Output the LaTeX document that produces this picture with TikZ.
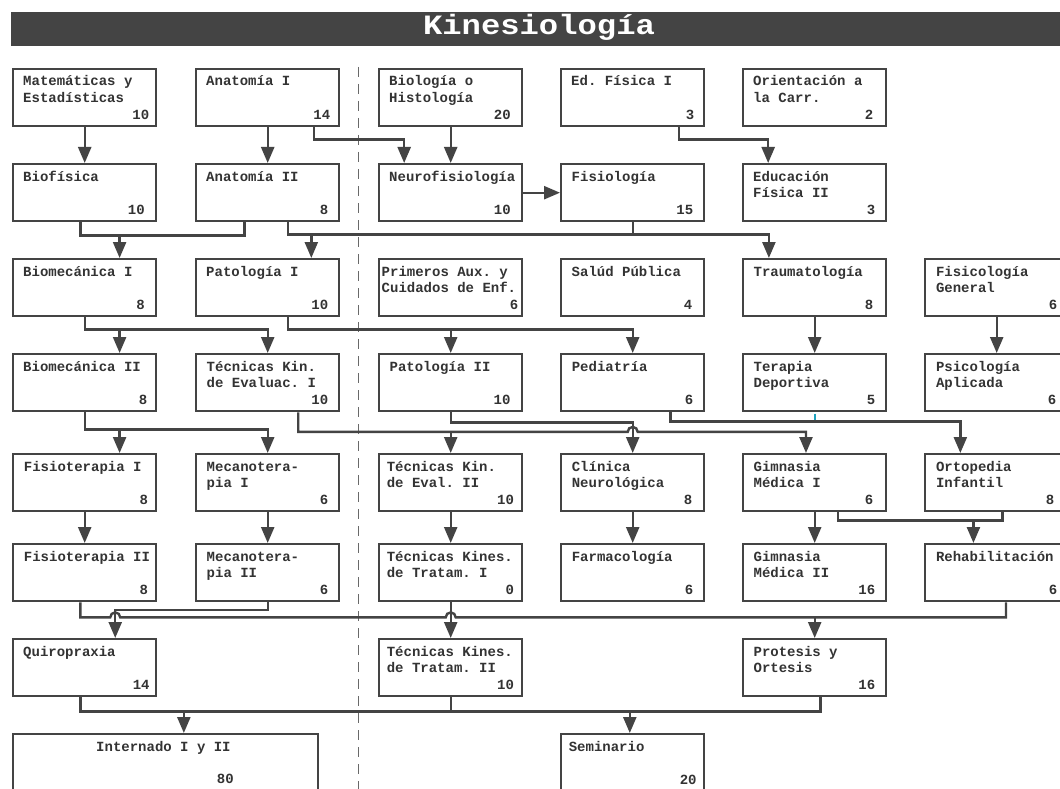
\documentclass[tikz,border=0pt]{standalone}
\usepackage{fontspec}
\setmonofont{Liberation Mono}
\newfontfamily\titlefont[FakeStretch=1.15]{Liberation Mono}
\usetikzlibrary{arrows.meta,calc}
\definecolor{ink}{HTML}{444444}
\definecolor{txt}{HTML}{333333}
\definecolor{tealseg}{HTML}{1FA3BF}
\newcommand\subj[8]{%
  \node[cbox] (#1) at (#2,#3) {};
  \node[ctext, anchor=base west] (#1-a) at ($(#1.north west)+(#7,18)$) {#4};
  \node[ctext, anchor=base west] (#1-b) at ($(#1.north west)+(#7,34.7)$) {#5};
  \node[ctext, anchor=base east] (#1-n) at ($(#1.north east)+(-#8,51.4)$) {#6};
}
\begin{document}
\begin{tikzpicture}[x=1pt,y=-1pt,
  font=\ttfamily\bfseries\fontsize{14}{16.7}\selectfont,
  cbox/.style={rectangle, draw=ink, line width=2.4pt, fill=white, minimum width=143pt, minimum height=57pt, inner sep=0pt, anchor=north west},
  ctext/.style={inner sep=0pt, text=txt},
  conn/.style={draw=ink, line width=2.4pt},
  arr/.style={conn, -{Triangle[length=16pt,width=13pt]}},
  tseg/.style={draw=tealseg, line width=2.4pt},
  dashline/.style={draw=ink!80, line width=1pt, dash pattern=on 10pt off 7pt}]
\useasboundingbox (0,0) rectangle (1060,789);
\clip (0,0) rectangle (1060,789);
\fill[white] (0,0) rectangle (1060,789);
% title
\node[fill=ink, minimum width=1060pt, minimum height=33.7pt, inner sep=0pt, anchor=north west] (titlebar) at (11,12) {};
\node[text=white, inner sep=0pt, anchor=base, font=\titlefont\bfseries\fontsize{28}{30}\selectfont] (title) at (539,35) {Kinesiología};
% separator
\draw[dashline] (358,67) -- (358,795);
% row 1
\subj{mat}{12}{68}{Matemáticas y}{Estadísticas}{10}{11}{8}
\subj{anat1}{195}{68}{Anatomía I}{}{14}{11}{10}
\subj{bio}{378}{68}{Biología o}{Histología}{20}{11}{12.5}
\subj{edf1}{560}{68}{Ed. Física I}{}{3}{11}{11}
\subj{ori}{742}{68}{Orientación a}{la Carr.}{2}{11}{14}
% row 2
\subj{biof}{12}{163}{Biofísica}{}{10}{11}{12.5}
\subj{anat2}{195}{163}{Anatomía II}{}{8}{11}{12}
\subj{neuro}{378}{163}{Neurofisiología}{}{10}{11}{12.5}
\subj{fisio}{560}{163}{Fisiología}{}{15}{11.5}{12}
\subj{edf2}{742}{163}{Educación}{Física II}{3}{11}{12}
% row 3
\subj{biom1}{12}{258}{Biomecánica I}{}{8}{11}{12.5}
\subj{pat1}{195}{258}{Patología I}{}{10}{11}{12}
\subj{prim}{378}{258}{Primeros Aux. y}{Cuidados de Enf.}{6}{3.5}{5}
\subj{salud}{560}{258}{Salúd Pública}{}{4}{11.5}{13}
\subj{trauma}{742}{258}{Traumatología}{}{8}{11.4}{14}
\subj{fisic}{924}{258}{Fisicología}{General}{6}{11.8}{12}
% row 4
\subj{biom2}{12}{353}{Biomecánica II}{}{8}{11}{10}
\subj{tke1}{195}{353}{Técnicas Kin.}{de Evaluac. I}{10}{11.5}{12}
\subj{pat2}{378}{353}{Patología II}{}{10}{11.4}{12.8}
\subj{ped}{560}{353}{Pediatría}{}{6}{11.6}{12}
\subj{terap}{742}{353}{Terapia}{Deportiva}{5}{11.4}{12}
\subj{psico}{924}{353}{Psicología}{Aplicada}{6}{11.8}{13}
% row 5
\subj{fis1}{12}{453}{Fisioterapia I}{}{8}{11.7}{9.3}
\subj{mec1}{195}{453}{Mecanotera-}{pia I}{6}{11.5}{12}
\subj{tke2}{378}{453}{Técnicas Kin.}{de Eval. II}{10}{8.6}{9.3}
\subj{clin}{560}{453}{Clínica}{Neurológica}{8}{11.6}{13}
\subj{gim1}{742}{453}{Gimnasia}{Médica I}{6}{11.4}{14}
\subj{orto}{924}{453}{Ortopedia}{Infantil}{8}{11.8}{15}
% row 6
\subj{fis2}{12}{543}{Fisioterapia II}{}{8}{11.7}{9.3}
\subj{mec2}{195}{543}{Mecanotera-}{pia II}{6}{11.5}{12}
\subj{tkt1}{378}{543}{Técnicas Kines.}{de Tratam. I}{0}{8.6}{9.3}
\subj{farma}{560}{543}{Farmacología}{}{6}{11.6}{12}
\subj{gim2}{742}{543}{Gimnasia}{Médica II}{16}{11.4}{12}
\subj{rehab}{924}{543}{Rehabilitación}{}{6}{11.8}{12}
% row 7
\subj{quiro}{12}{638}{Quiropraxia}{}{14}{11}{7.6}
\subj{tkt2}{378}{638}{Técnicas Kines.}{de Tratam. II}{10}{8.6}{9.3}
\subj{protesis}{742}{638}{Protesis y}{Ortesis}{16}{11.4}{12}
% row 8
\node[cbox, minimum width=305pt, minimum height=70pt] (intern) at (12,733) {};
\node[ctext, anchor=base west] (intern-a) at ($(intern.north west)+(84,18)$) {Internado I y II};
\node[ctext, anchor=base east] (intern-n) at ($(intern.north west)+(222,50)$) {80};
\subj{semi}{560}{733}{Seminario}{}{20}{8.6}{8.6}
% helper points
\coordinate (a1s) at ($(anat1.south west)!.82!(anat1.south east)$);
\coordinate (nt) at ($(neuro.north west)!.18!(neuro.north east)$);
\coordinate (e1s) at ($(edf1.south west)!.82!(edf1.south east)$);
\coordinate (e2t) at ($(edf2.north west)!.18!(edf2.north east)$);
\coordinate (bfs) at ($(biof.south west)!.47!(biof.south east)$);
\coordinate (a2sa) at ($(anat2.south west)!.34!(anat2.south east)$);
\coordinate (b1t) at ($(biom1.north west)!.74!(biom1.north east)$);
\coordinate (a2sb) at ($(anat2.south west)!.64!(anat2.south east)$);
\coordinate (p1t) at ($(pat1.north west)!.80!(pat1.north east)$);
\coordinate (trt) at ($(trauma.north west)!.185!(trauma.north east)$);
\coordinate (p1s) at ($(pat1.south west)!.64!(pat1.south east)$);
\coordinate (b2t) at ($(biom2.north west)!.74!(biom2.north east)$);
\coordinate (f1t) at ($(fis1.north west)!.74!(fis1.north east)$);
\coordinate (t1s) at ($(tke1.south west)!.71!(tke1.south east)$);
\coordinate (g1t) at ($(gim1.north west)!.44!(gim1.north east)$);
\coordinate (pds) at ($(ped.south west)!.76!(ped.south east)$);
\coordinate (ot) at ($(orto.north west)!.25!(orto.north east)$);
\coordinate (g1s) at ($(gim1.south west)!.66!(gim1.south east)$);
\coordinate (os) at ($(orto.south west)!.54!(orto.south east)$);
\coordinate (rt) at ($(rehab.north west)!.34!(rehab.north east)$);
\coordinate (qt) at ($(quiro.north west)!.71!(quiro.north east)$);
\coordinate (f2s) at ($(fis2.south west)!.47!(fis2.south east)$);
\coordinate (rs) at ($(rehab.south west)!.564!(rehab.south east)$);
\coordinate (qs) at ($(quiro.south west)!.47!(quiro.south east)$);
\coordinate (prs) at ($(protesis.south west)!.54!(protesis.south east)$);
\coordinate (it) at ($(intern.north west)!.559!(intern.north east)$);
\coordinate (st) at ($(semi.north west)!.48!(semi.north east)$);
% bus levels
\coordinate (bus1) at ($(bfs)+(0,13)$);
\coordinate (bus2) at ($(a2sb)+(0,12)$);
\coordinate (bus3a) at ($(biom1.south)+(0,12)$);
\coordinate (bus3b) at ($(p1s)+(0,12)$);
\coordinate (bus4a) at ($(biom2.south)+(0,17)$);
\coordinate (bus4b) at ($(t1s)+(0,19.5)$);
\coordinate (bus4c) at ($(pat2.south)+(0,10)$);
\coordinate (bus4d) at ($(pds)+(0,9)$);
\coordinate (bus5) at ($(g1s)+(0,8)$);
\coordinate (bus6a) at ($(mec2.south)+(0,7.5)$);
\coordinate (bus6b) at ($(f2s)+(0,15)$);
\coordinate (bus7) at ($(qs)+(0,14)$);
% connectors row 1 -> 2
\draw[arr] (mat.south) -- (biof.north);
\draw[arr] (anat1.south) -- (anat2.north);
\draw[arr] (a1s) -- ++(0,12) -| (nt);
\draw[arr] (bio.south) -- (neuro.north);
\draw[arr] (e1s) -- ++(0,12) -| (e2t);
\draw[arr] (neuro.east) -- (fisio.west);
% row 2 -> 3
\draw[conn] (bfs) -- (bus1) -| (a2sa);
\draw[arr] (b1t |- bus1) -- (b1t);
\draw[arr] (a2sb) -- (bus2) -| (trt);
\draw[arr] (p1t |- bus2) -- (p1t);
\draw[conn] (fisio.south) -- (fisio.south |- bus2);
% row 3 -> 4
\draw[arr] (biom1.south) -- (bus3a) -| (tke1.north);
\draw[arr] (b2t |- bus3a) -- (b2t);
\draw[arr] (p1s) -- (bus3b) -| (ped.north);
\draw[arr] (pat2.north |- bus3b) -- (pat2.north);
\draw[arr] (trauma.south) -- (terap.north);
\draw[arr] (fisic.south) -- (psico.north);
% row 4 -> 5
\draw[arr] (biom2.south) -- (bus4a) -| (mec1.north);
\draw[arr] (f1t |- bus4a) -- (f1t);
\draw[arr] (pat2.south) -- (bus4c) -| (clin.north);
\draw[arr] (t1s) -- (bus4b) -- ($(clin.north |- bus4b)+(-5,0)$) arc[start angle=180,end angle=0,radius=5pt] -- (g1t |- bus4b) -- (g1t);
\draw[arr] (tke2.north |- bus4b) -- (tke2.north);
\draw[arr] (pds) -- (bus4d) -| (ot);
\draw[tseg] ($(terap.south)+(0,1.2)$) -- ($(terap.south |- bus4d)+(0,-1.2)$);
% row 5 -> 6
\draw[arr] (fis1.south) -- (fis2.north);
\draw[arr] (mec1.south) -- (mec2.north);
\draw[arr] (tke2.south) -- (tkt1.north);
\draw[arr] (clin.south) -- (farma.north);
\draw[arr] (gim1.south) -- (gim2.north);
\draw[conn] (g1s) -- (bus5) -| (os);
\draw[arr] (rt |- bus5) -- (rt);
% row 6 -> 7
\draw[arr] (mec2.south) -- (bus6a) -| (qt);
\draw[conn] (f2s) -- (bus6b) -- ($(qt |- bus6b)+(-5,0)$) arc[start angle=180,end angle=0,radius=5pt] -- ($(tkt1.south |- bus6b)+(-5,0)$) arc[start angle=180,end angle=0,radius=5pt] -- (rs |- bus6b) -- (rs);
\draw[arr] (protesis.north |- bus6b) -- (protesis.north);
\draw[arr] (tkt1.south) -- (tkt2.north);
% row 7 -> 8
\draw[conn] (qs) -- (bus7) -| (prs);
\draw[conn] (tkt2.south) -- (tkt2.south |- bus7);
\draw[arr] (it |- bus7) -- (it);
\draw[arr] (st |- bus7) -- (st);
\end{tikzpicture}
\end{document}
